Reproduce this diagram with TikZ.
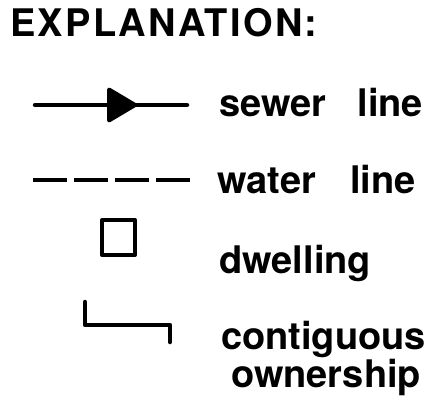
\documentclass[tikz,border=0pt]{standalone}
\usepackage{fontspec}
\setmainfont{TeX Gyre Heros}
\begin{document}
\begin{tikzpicture}[x=1pt,y=-1pt,
  label/.style={anchor=base west,inner sep=0pt,font=\bfseries\fontsize{38}{32}\selectfont},
  heading/.style={anchor=base west,inner sep=0pt,font=\bfseries\fontsize{38}{40}\selectfont\addfontfeature{LetterSpace=6}},
  symline/.style={line width=4.5pt,line cap=round},
]
\useasboundingbox (0,0) rectangle (433,402);

% heading
\node[heading] (title) at (10,36) {EXPLANATION:};

% sewer line: solid line with a flow arrow
\coordinate (sw) at (35,105);
\coordinate (se) at (187,105);
\draw[symline] (sw) -- (se);
\fill[rounded corners=4pt] (107,86) -- (107,124) -- (139,105) -- cycle;
\node[label] (sewer) at (219,116) {sewer\hspace{31pt}line};

% water line: dashed
\coordinate (ww) at (33,180);
\coordinate (we) at (190,180);
\draw[line width=4pt,dash pattern=on 34pt off 7pt] (ww) -- (we);
\node[label] (water) at (217,193) {water\hspace{34pt}line};

% dwelling: open square
\draw[line width=4pt,line join=round] (102,220) rectangle (135,255);
\node[label] (dwelling) at (219,273) {dwelling};

% contiguous ownership bracket
\draw[line width=4.5pt,line join=round,line cap=round] (85,302) -- (85,325) -- (170,325) -- (170,342);
\node[label,align=left,anchor=north west] (own) at (221,321) {contiguous\\\hspace{10pt}ownership};
\end{tikzpicture}
\end{document}
